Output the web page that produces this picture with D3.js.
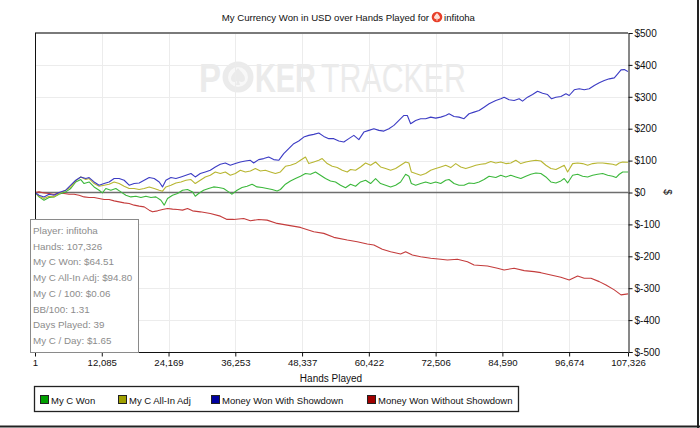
<!DOCTYPE html>
<html>
<head>
<meta charset="utf-8">
<script src="https://cdn.jsdelivr.net/npm/d3@7"></script>
<style>
  html, body { margin: 0; padding: 0; background: #fff; }
  svg { display: block; font-family: "Liberation Sans", Arial, sans-serif; }
</style>
</head>
<body>
<svg id="chart" width="700" height="428"></svg>
<script>
// ---------- DATA ----------
const xTickValues = [1, 12085, 24169, 36253, 48337, 60422, 72506, 84590, 96674, 107326];
const yTickValues = [500, 400, 300, 200, 100, 0, -100, -200, -300, -400, -500];
const seriesNames = ["My C Won", "My C All-In Adj", "Money Won With Showdown", "Money Won Without Showdown"];
const infoLines = ["Player: infitoha", "Hands: 107,326", "My C Won: $64.51", "My C All-In Adj: $94.80",
  "My C / 100: $0.06", "BB/100: 1.31", "Days Played: 39", "My C / Day: $1.65"];

const wonHands = [1,725,1632,2538,3445,4351,5566,6472,7379,8285,8884,9790,10697,11603,12202,12818,13724,14631,15537,16444,17350,18257,19163,20070,20976,21883,22789,23388,23986,24893,25799,26705,27612,28518,29008,29606,30513,31419,32326,33233,34139,35046,35662,36569,37475,38381,39288,40194,41101,42007,42914,43820,44419,45325,46232,47138,48045,48951,49858,50764,51671,52577,53484,54390,55297,56203,57110,58016,58923,59829,60736,61642,62549,63455,64362,65268,66175,67081,67679,68114,68894,69801,70707,71614,72520,73427,74333,74931,75838,76744,77651,78557,79464,80370,81277,82183,83398,84305,85211,86118,87024,87931,88837,89744,90650,91557,92463,93370,94276,95183,95781,96397,97304,98210,99117,100023,100930,101836,102743,103649,104556,105154,105752,106369,107326];
const wonValues = [0,-13.8,-24.1,-15.6,-13.8,-5.3,1.9,12.5,33.1,40.6,28.1,33.1,17.5,7.2,-1.3,12.5,7.2,12.5,1.9,-8.4,-13.8,-11.6,-15.6,-11.6,-15.6,-13.8,-24.1,-39.7,-18.8,-8.4,-3.1,7.2,9.4,1.9,-11.6,-3.1,7.2,12.5,17.5,15.6,12.5,1.9,-5.3,7.2,15.6,19.7,25.9,17.5,15.6,12.5,9.4,5,9.4,25.9,36.3,43.8,50.9,59.4,57.2,64.4,54.1,43.8,36.3,33.1,22.8,15,25.9,19.7,33.1,38.4,28.1,43.8,28.1,22.8,17.5,22.8,33.1,57.2,50.9,28.1,22.8,28.1,33.1,28.1,33.1,28.1,38.4,40.6,28.1,22.8,22.8,30,28.1,33.1,40.6,50.9,46.9,54.1,48.8,54.1,48.8,43.8,50.9,57.2,61.3,59.4,48.8,33.1,30,36.3,43.8,30,54.1,57.2,50.9,48.8,54.1,57.2,59.4,54.1,50.9,46.9,57.2,64.4,64.5];

const adjHands = [1,725,1632,2538,3445,4351,5566,6472,7379,8285,9192,9790,10697,11603,12510,13416,14323,15229,16136,17042,17949,18855,19762,20668,21575,22481,23079,23696,24602,25509,26415,27322,28228,29008,29915,30821,31728,32634,33541,34447,35354,36260,37167,38073,38980,39886,40793,41699,42606,43512,44419,45325,46232,47138,48045,48951,49549,50456,51362,51979,52885,53792,54698,55605,56511,57110,58016,58923,59829,60736,61642,62549,63455,64362,65268,66175,67081,67679,68114,68894,69801,70707,71614,72520,73427,74333,75240,76146,77053,77959,78866,79772,80679,81585,82492,83398,84305,85211,86118,87024,87931,88837,89744,90650,91557,92463,93370,94276,95183,95781,96397,97304,98210,99117,100023,100930,101836,102743,103649,104556,105154,105752,106369,107326];
const adjValues = [0,-11.6,-18.8,-11.6,-13.8,-3.1,7.2,17.5,36.3,48.8,40.6,43.8,28.1,19.7,22.8,25.9,33.1,28.1,19.7,12.5,12.5,9.4,12.5,17.5,12.5,7.2,4.1,17.5,22.8,30,33.1,38.4,40.6,28.1,38.4,48.8,54.1,64.4,59.4,64.4,54.1,59.4,69.7,64.4,67.5,75,67.5,69.7,64.4,59.4,64.4,82.2,85.3,90.6,100.9,111.3,90.6,95.6,100.9,106.3,90.6,82.2,78.1,69.7,64.4,72,69.7,80,92.5,85.3,95.6,80,75,69.7,75,85.3,95.6,92.5,64.4,59.4,54.1,59.4,69.7,75,80,85.3,78.1,90.6,80,75,80,85.3,88.4,90.6,97,92.5,95.6,90.6,92.5,100.9,90.6,95.6,98.8,100.9,98.8,85.3,75,71.9,80,85.3,64.4,90.6,92.5,90.6,85.3,90.6,92.5,92.5,90.6,88.4,85.3,92.5,95.6,94.8];

const sdHands = [1,725,1632,2538,3445,4351,5566,6472,7379,8285,9192,9790,10697,11603,12510,13416,14323,15229,16136,17042,17949,18855,19762,20668,21575,22481,23079,23696,24602,25509,26415,27322,28228,29008,29915,30821,31728,32634,33541,34447,35354,36260,37167,38073,38980,39578,40484,41391,42297,43204,44110,45017,45923,46830,47736,48643,49549,50456,51362,52269,53175,54082,54988,55895,56801,57708,58614,59521,60427,61334,62240,63147,64053,64960,65866,66773,67389,67988,68894,69801,70707,71614,72520,73427,74333,74931,75838,76744,77651,78557,79464,80370,81277,82183,83398,84305,84903,85809,86716,87622,88239,89145,90052,90958,91865,92771,93496,94276,95183,96089,96687,97594,98500,99407,100313,101220,102126,103033,103939,104846,105462,106061,106659,107326];
const sdValues = [0,-8.4,-13.8,-5.3,-8.4,0,7.2,22.8,38.4,48.8,43.8,46.9,33.1,22.8,28.1,33.1,43.8,43.8,38.4,22.8,28.1,30,38.4,46.9,43.8,33.1,17.5,38.4,46.9,43.8,48.8,54.1,59.4,48.8,59.4,64.4,69.7,80,88.4,92.5,85.3,90.6,95.6,98.8,100.9,92.5,103.1,106.3,111.3,103.1,100.9,121.9,137.5,153.1,161.3,173.8,179.1,182.2,186.3,175.9,168.8,168.8,161.3,158.1,168.8,179.1,165.6,189.4,194.7,200,194.7,192.5,200,210.3,225.9,241.6,241.6,215.6,225.9,231.3,231.3,236.3,233.1,236.3,241.6,246.9,238.4,236.3,231.3,246.9,251.9,257.2,267.5,278.1,288.4,293.8,298.8,290.6,288.4,293.8,286.3,298.8,307.2,317.5,311.3,307.2,293.8,298.8,300.9,309.4,304.1,321.9,325,321.9,325,335.3,343.8,350.9,356.3,359.4,371.9,384.4,385.3,379];

const nsdHands = [1,725,1632,2538,3445,4351,5258,6164,7071,7977,8884,9790,10697,11603,12510,13416,14323,15229,16136,17042,17949,18855,19762,20668,21266,22173,23079,23986,24893,25799,26705,27612,28518,29915,31728,33541,34756,35952,37765,38980,40484,42007,43820,45633,48045,50456,52269,54082,56511,58324,60137,61334,62857,64362,66175,67081,68296,69801,71614,73427,74641,76454,78267,79464,81893,83706,84903,86716,88529,90342,91557,93370,95183,96687,98210,99407,100622,102126,103341,104846,106061,107326];
const nsdValues = [0,1.9,-1.3,-3.1,-6.3,-1.3,-3.1,-5.3,-5.3,-8.4,-13.8,-15.6,-15.6,-18.8,-21.9,-21.9,-26.3,-29.4,-32.5,-34.4,-39.7,-42.8,-45,-55.3,-60.6,-57.5,-53.1,-50,-52.2,-53.1,-55.3,-50,-57.5,-60.6,-65.6,-74.1,-84.4,-84.4,-81.3,-88.8,-84.4,-86.6,-96.9,-102.2,-109.4,-123.1,-128.1,-140.6,-149.1,-154.4,-161.6,-164.7,-178.1,-185.6,-192.8,-185.6,-195.9,-201.3,-206.3,-209.4,-211.6,-209.4,-216.9,-227.2,-230.3,-237.5,-242.8,-237.5,-245,-248.1,-251.3,-258.4,-265.6,-274.1,-261.6,-268.8,-268.8,-279.4,-289.7,-305.3,-320.9,-317.8];

// ---------- STYLE ----------
const lineColors = ["#3cb83c", "#b8b632", "#3c3cc4", "#c43c3c"];
const swatchColors = ["#00a000", "#a0a000", "#0000a0", "#a00000"];

const svg = d3.select("#chart");
const W = 700, H = 428;
const plot = { left: 35, right: 628, top: 33, bottom: 352 };

const x = d3.scaleLinear().domain([1, 107326]).range([plot.left, plot.right]);
const y = d3.scaleLinear().domain([-500, 500]).range([plot.bottom, plot.top]);

// outer frame (right / bottom dark edge)
svg.append("line").attr("x1", 698).attr("x2", 698).attr("y1", 0).attr("y2", H)
  .attr("stroke", "#222").attr("stroke-width", 2);
svg.append("line").attr("x1", 0).attr("x2", W).attr("y1", 426.5).attr("y2", 426.5)
  .attr("stroke", "#222").attr("stroke-width", 2);

// watermark (decorative): each word squeezed horizontally to its target width
const wmFont = "'Liberation Sans Narrow', 'Liberation Sans', sans-serif";
const wm = svg.append("g").attr("fill", "#ebebeb");
wm.append("circle").attr("cx", 238).attr("cy", 77).attr("r", 15.5).attr("fill", "#ebebeb");
wm.append("circle").attr("cx", 238).attr("cy", 77).attr("r", 10).attr("fill", "#f8f8f8");
wm.append("path").attr("fill", "#ebebeb")
  .attr("d", "M238,68 C234,73 231,75 231,79 C231,82 235,83 237,81 L236,85 L240,85 L239,81 C241,83 245,82 245,79 C245,75 242,73 238,68 Z");
function wmWord(txt, x0, targetW, bold) {
  const t = wm.append("text").attr("font-size", 41).attr("font-family", wmFont)
    .attr("font-weight", bold ? "bold" : "normal").text(txt);
  const w = t.node().getComputedTextLength() || targetW;
  t.attr("transform", `translate(${x0},92) scale(${targetW / w},1)`);
}
wmWord("P", 199, 22, true);
wmWord("KER", 255, 61, true);
wmWord("TRACKER", 321, 145, false);

// gridlines
svg.append("g").selectAll("line").data(yTickValues.filter(v => v !== 0 && v !== 500 && v !== -500))
  .join("line").attr("x1", plot.left).attr("x2", plot.right)
  .attr("y1", d => Math.round(y(d)) + 0.5).attr("y2", d => Math.round(y(d)) + 0.5)
  .attr("stroke", "#ececec").attr("stroke-width", 1);
svg.append("g").selectAll("line").data(xTickValues.slice(1, -1))
  .join("line").attr("y1", plot.top).attr("y2", plot.bottom)
  .attr("x1", d => Math.round(x(d)) + 0.5).attr("x2", d => Math.round(x(d)) + 0.5)
  .attr("stroke", "#ececec").attr("stroke-width", 1);

// zero line
svg.append("line").attr("x1", plot.left).attr("x2", plot.right)
  .attr("y1", y(0)).attr("y2", y(0)).attr("stroke", "#6e6e6e").attr("stroke-width", 1.6);

// series lines
svg.append("clipPath").attr("id", "clip").append("rect")
  .attr("x", plot.left).attr("y", plot.top).attr("width", plot.right - plot.left).attr("height", plot.bottom - plot.top);
const series = [
  { hands: wonHands, values: wonValues },
  { hands: adjHands, values: adjValues },
  { hands: sdHands, values: sdValues },
  { hands: nsdHands, values: nsdValues }
];
const lineGen = d3.line().x(d => x(d[0])).y(d => y(d[1]));
const lg = svg.append("g").attr("clip-path", "url(#clip)");
[3, 0, 1, 2].forEach(i => {
  const pts = series[i].hands.map((h, k) => [h, series[i].values[k]]);
  lg.append("path").datum(pts).attr("d", lineGen).attr("fill", "none")
    .attr("stroke", lineColors[i]).attr("stroke-width", 1.1).attr("stroke-linejoin", "round");
});

// plot frame
svg.append("line").attr("x1", plot.left).attr("x2", plot.right).attr("y1", plot.top).attr("y2", plot.top)
  .attr("stroke", "#7a7a7a").attr("stroke-width", 2);
svg.append("line").attr("x1", plot.left + 0.5).attr("x2", plot.left + 0.5).attr("y1", plot.top).attr("y2", plot.bottom)
  .attr("stroke", "#111").attr("stroke-width", 1);
svg.append("line").attr("x1", plot.left).attr("x2", plot.right).attr("y1", plot.bottom + 0.5).attr("y2", plot.bottom + 0.5)
  .attr("stroke", "#111").attr("stroke-width", 1);

// right y axis
const yAxis = d3.axisRight(y).tickValues(yTickValues).tickSize(4).tickPadding(2)
  .tickFormat(d => "$" + d);
const gy = svg.append("g").attr("transform", `translate(${plot.right + 0.5},0)`).call(yAxis);
gy.select(".domain").attr("stroke", "#111");
gy.selectAll(".tick line").attr("stroke", "#111");
gy.selectAll(".tick text").attr("font-size", 10).attr("fill", "#111")
  .attr("font-family", "'Liberation Sans', Arial, sans-serif");

// bottom x axis
const xAxis = d3.axisBottom(x).tickValues(xTickValues).tickSize(4).tickPadding(3)
  .tickFormat(d3.format(","));
const gx = svg.append("g").attr("transform", `translate(0,${plot.bottom + 0.5})`).call(xAxis);
gx.select(".domain").remove();
gx.selectAll(".tick line").attr("stroke", "#111");
gx.selectAll(".tick text").attr("font-size", 9.6).attr("fill", "#111")
  .attr("font-family", "'Liberation Sans', Arial, sans-serif");

// axis titles
svg.append("text").attr("x", 331).attr("y", 382).attr("text-anchor", "middle")
  .attr("font-size", 10).attr("fill", "#111").text("Hands Played");
svg.append("text").attr("transform", "translate(664,192) rotate(90)").attr("text-anchor", "middle")
  .attr("font-size", 10).attr("fill", "#111").text("$");

// title
const title = svg.append("g");
title.append("text").attr("x", 429).attr("y", 21).attr("text-anchor", "end")
  .attr("font-size", 9.6).attr("fill", "#111").text("My Currency Won in USD over Hands Played for");
title.append("circle").attr("cx", 437).attr("cy", 17).attr("r", 5.3).attr("fill", "#e8402a");
title.append("path").attr("fill", "#fde0d8")
  .attr("d", "M437,13 C435.5,15 434,16 434,17.6 C434,19 436,19.3 436.7,18.4 L436.2,20.5 L437.8,20.5 L437.3,18.4 C438,19.3 440,19 440,17.6 C440,16 438.5,15 437,13 Z");
title.append("text").attr("x", 444).attr("y", 21).attr("font-size", 9.6).attr("fill", "#111").text("infitoha");

// info box
svg.append("rect").attr("x", 30.5).attr("y", 219.5).attr("width", 108).attr("height", 133)
  .attr("fill", "#fff").attr("stroke", "#8a8a8a").attr("stroke-width", 1);
svg.append("g").selectAll("text").data(infoLines).join("text")
  .attr("x", 33).attr("y", (d, i) => 234 + i * 15.7)
  .attr("font-size", 9.8).attr("fill", "#8c8c8c").text(d => d);

// legend
svg.append("rect").attr("x", 34.5).attr("y", 386.5).attr("width", 484).attr("height", 25)
  .attr("fill", "#fff").attr("stroke", "#222").attr("stroke-width", 1.3);
const legendX = [40, 118, 211, 367];
const lgd = svg.append("g").selectAll("g").data(seriesNames).join("g")
  .attr("transform", (d, i) => `translate(${legendX[i]},395)`);
lgd.append("rect").attr("x", 0.5).attr("y", 0.5).attr("width", 8).attr("height", 8)
  .attr("fill", (d, i) => swatchColors[i]).attr("stroke", "#222").attr("stroke-width", 1);
lgd.append("text").attr("x", 11).attr("y", 8.5).attr("font-size", 9.5).attr("fill", "#111").text(d => d);
</script>
</body>
</html>
